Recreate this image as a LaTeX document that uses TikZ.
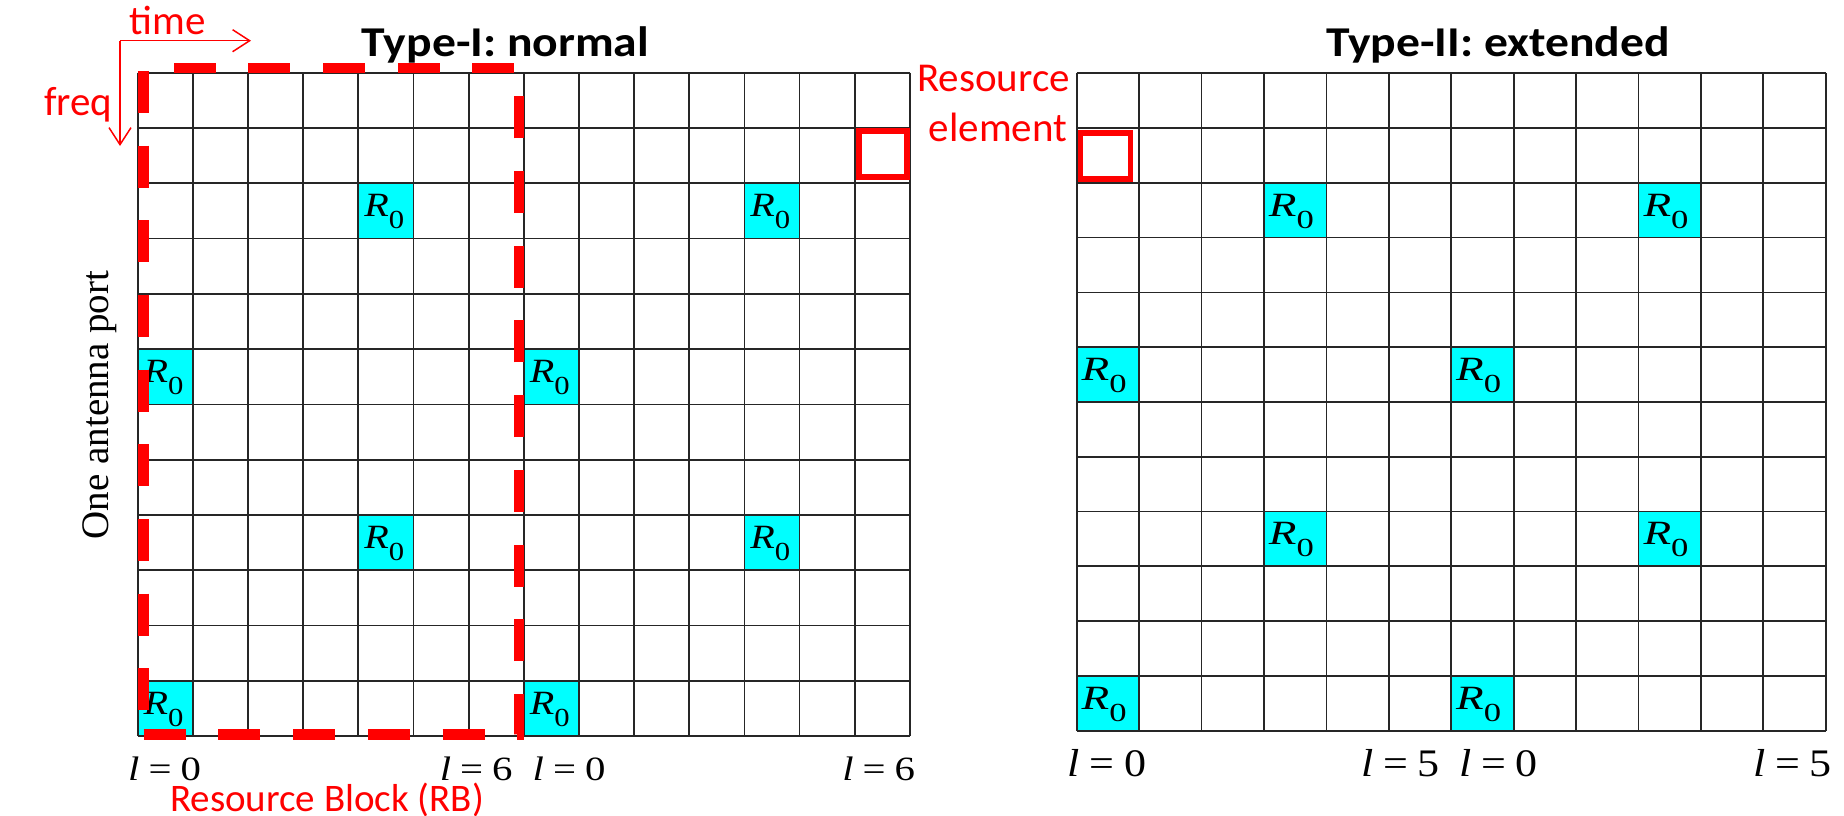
\documentclass[tikz,border=0pt]{standalone}
\usepackage{fontspec}
\setmainfont{Carlito}
\newfontfamily\tmsf{Liberation Serif}
\usetikzlibrary{arrows.meta}
\definecolor{rcyan}{RGB}{0,255,255}
\definecolor{pred}{RGB}{255,0,0}
\newcommand\Rzero{{\tmsf\fontsize{34}{36}\selectfont\itshape R\raisebox{-12pt}{\upshape\fontsize{26}{28}\selectfont 0}}}
\newcommand\lab[1]{{\tmsf\itshape l\upshape\hspace{0.22em}=\hspace{0.22em}#1}}
\begin{document}
\begin{tikzpicture}[x=1pt,y=-1pt,
  gridline/.style={line width=1.7pt, draw=black!85},
  rcell/.style={fill=rcyan, inner sep=0pt, draw=none},
  rtext/.style={inner sep=0pt, anchor=west},
  relem/.style={draw=pred, line width=5.5pt, inner sep=0pt},
  redtxt/.style={text=pred, font=\fontsize{41}{48}\selectfont, inner sep=0pt},
  ttl/.style={font=\bfseries\fontsize{42.5}{48}\selectfont, inner sep=0pt, anchor=base west},
  lblL/.style={inner sep=0pt, font=\fontsize{34}{36}\selectfont},
  lblR/.style={inner sep=0pt, font=\fontsize{39}{40}\selectfont},
  rbbox/.style={draw=pred, line width=10.5pt, dash pattern=on 42pt off 32.7pt},
  axisarrow/.style={draw=pred, line width=1.5pt, -{Straight Barb[length=17pt,width=22pt]}}
]
\useasboundingbox (0,0) rectangle (1844,816);

% ---------- left grid (Type-I) ----------
\foreach \r/\c in {2/4,2/11,5/0,5/7,8/4,8/11,11/0,11/7}{
  \node[rcell, minimum width=55.16pt, minimum height=55.28pt] (L\r-\c)
    at ({137.7+(\c+0.5)*55.16},{72.7+(\r+0.5)*55.28}) {};
}
\foreach \i in {0,...,14}
  \draw[gridline] ({137.7+\i*55.16},72.7) -- ({137.7+\i*55.16},736);
\foreach \j in {0,...,12}
  \draw[gridline] (137.7,{72.7+\j*55.28}) -- (909.9,{72.7+\j*55.28});
\foreach \r/\c in {2/4,2/11,5/0,5/7,8/4,8/11,11/0,11/7}{
  \node[rtext, yshift=-1pt, xshift=6pt] (tL\r-\c) at (L\r-\c.west) {\scalebox{1.18}[1]{\Rzero}};
}

% ---------- right grid (Type-II) ----------
\foreach \r/\c in {2/3,2/9,5/0,5/6,8/3,8/9,11/0,11/6}{
  \node[rcell, minimum width=62.42pt, minimum height=54.78pt] (R\r-\c)
    at ({1076.7+(\c+0.5)*62.42},{73.3+(\r+0.5)*54.78}) {};
}
\foreach \i in {0,...,12}
  \draw[gridline] ({1076.7+\i*62.42},73.3) -- ({1076.7+\i*62.42},730.7);
\foreach \j in {0,...,12}
  \draw[gridline] (1076.7,{73.3+\j*54.78}) -- (1825.7,{73.3+\j*54.78});
\foreach \r/\c in {2/3,2/9,5/0,5/6,8/3,8/9,11/0,11/6}{
  \node[rtext, yshift=-1pt, xshift=5pt] (tR\r-\c) at (R\r-\c.west) {\scalebox{1.33}[1]{\Rzero}};
}

% ---------- resource element boxes ----------
\node[relem, minimum width=48.3pt, minimum height=46pt] (re1) at (883,154.2) {};
\node[relem, minimum width=50pt, minimum height=46pt] (re2) at (1105.6,155.8) {};

% ---------- resource block (dashed) ----------
\draw[rbbox] (143.7,734.3) -- (518.8,734.3) -- (518.8,68) -- (143.7,68) -- cycle;

% ---------- axes ----------
\coordinate (ax) at (120,40.7);
\coordinate (tx) at (251,40.7);
\coordinate (fy) at (120,146);
\draw[axisarrow] (ax) -- (tx);
\draw[axisarrow] (ax) -- (fy);

% ---------- texts ----------
\node[redtxt, anchor=base west] (time) at (129.3,35) {time};
\node[redtxt, anchor=base west] (freq) at (44,115) {freq};
\node[redtxt, anchor=base] (res) at (993.5,91.4) {Resource};
\node[redtxt, anchor=base] (elem) at (998,141) {element};
\node[redtxt, anchor=base west, font=\fontsize{39}{44}\selectfont] (rbl) at (170,811) {Resource Block (RB)};
\node[ttl] (t1) at (361.7,56.7) {\scalebox{1.12}[1]{Type-I: normal}};
\node[ttl] (t2) at (1326,56.7) {\scalebox{1.12}[1]{Type-II: extended}};
\node[inner sep=0pt, rotate=90, anchor=base, font=\tmsf\fontsize{39}{40}\selectfont] (ant) at (108.3,405) {One antenna port};

% ---------- l labels ----------
\node[lblL, anchor=base west] (l1) at (128,780) {\scalebox{1.2}[1]{\lab{0}}};
\node[lblL, anchor=base east] (l2) at (512.8,780) {\scalebox{1.2}[1]{\lab{6}}};
\node[lblL, anchor=base west] (l3) at (532.5,780) {\scalebox{1.2}[1]{\lab{0}}};
\node[lblL, anchor=base east] (l4) at (915.2,780) {\scalebox{1.2}[1]{\lab{6}}};
\node[lblR, anchor=base west] (l5) at (1067.7,776.7) {\scalebox{1.13}[1]{\lab{0}}};
\node[lblR, anchor=base east] (l6) at (1439.9,776.7) {\scalebox{1.13}[1]{\lab{5}}};
\node[lblR, anchor=base west] (l7) at (1459,776.7) {\scalebox{1.13}[1]{\lab{0}}};
\node[lblR, anchor=base east] (l8) at (1832,776.7) {\scalebox{1.13}[1]{\lab{5}}};
\end{tikzpicture}
\end{document}
